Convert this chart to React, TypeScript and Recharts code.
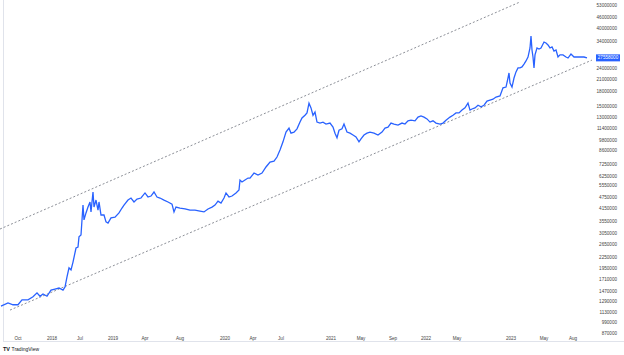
import React from "react";
import { LineChart, Line, XAxis, YAxis, ReferenceLine } from "recharts";

// bar index (position along the time axis) and close price
const barIndex = [
  1, 8, 13, 18, 22, 28, 33, 37, 40, 43,
  47, 51, 55, 59, 63, 65, 67, 69, 71, 73,
  76, 78, 79, 81, 83, 84, 86, 88, 90, 91,
  93, 94, 96, 98, 99, 101, 104, 106, 108, 111,
  115, 119, 122, 124, 128, 131, 134, 137, 141, 145,
  148, 151, 154, 157, 160, 164, 168, 172, 174, 176,
  180, 185, 190, 195, 200, 204, 208, 212, 215, 218,
  221, 224, 226, 229, 232, 236, 239, 240, 242, 245,
  248, 250, 254, 258, 262, 266, 270, 274, 277, 280,
  283, 286, 289, 291, 294, 297, 300, 302, 305, 307,
  309, 311, 313, 315, 317, 320, 323, 326, 330, 333,
  335, 337, 339, 342, 344, 347, 350, 353, 356, 359,
  361, 364, 367, 370, 374, 378, 382, 385, 388, 391,
  394, 398, 402, 405, 408, 411, 415, 418, 421, 424,
  427, 430, 433, 436, 440, 443, 446, 450, 453, 456,
  459, 462, 465, 468, 470, 472, 475, 478, 481, 484,
  487, 490, 493, 496, 500, 503, 506, 508, 509, 510,
  512, 514, 516, 518, 520, 522, 524, 526, 528, 530,
  531, 532, 533, 534, 535, 537, 539, 541, 544, 546,
  548, 550, 552, 554, 556, 558, 560, 563, 566, 568,
  571, 574, 577, 580, 584, 587,
];

const closePrice = [
  1220000, 1270000, 1240000, 1240000, 1320000, 1320000, 1370000, 1440000, 1380000, 1420000,
  1380000, 1490000, 1510000, 1530000, 1490000, 1550000, 1760000, 1970000, 1920000, 2120000,
  2530000, 2560000, 2910000, 2980000, 4340000, 3600000, 3930000, 4230000, 4510000, 3980000,
  5110000, 4230000, 4620000, 4070000, 4510000, 3830000, 3830000, 3510000, 3460000, 3690000,
  3730000, 3930000, 4180000, 4340000, 4620000, 4740000, 4510000, 4680000, 4740000, 5050000,
  4800000, 4860000, 5110000, 4800000, 4740000, 4620000, 4510000, 4390000, 3980000, 4230000,
  4180000, 4130000, 4070000, 4070000, 4020000, 3980000, 4130000, 4230000, 4340000, 4560000,
  4450000, 4740000, 5050000, 4800000, 4860000, 5050000, 5240000, 5940000, 5800000, 5940000,
  6090000, 6090000, 6490000, 6330000, 6490000, 7000000, 7450000, 7540000, 7930000, 8660000,
  9600000, 10850000, 11400000, 10700000, 10850000, 11300000, 12300000, 12950000, 13400000, 13800000,
  15600000, 14700000, 13400000, 13950000, 12300000, 12150000, 12300000, 12000000, 12150000, 11550000,
  10700000, 10100000, 11100000, 11300000, 12000000, 10850000, 10700000, 10450000, 10200000, 9600000,
  9950000, 10450000, 10700000, 10850000, 10700000, 10450000, 10850000, 11400000, 11550000, 12150000,
  12000000, 11850000, 12150000, 12000000, 12500000, 12600000, 12500000, 13100000, 13300000, 13100000,
  12800000, 12300000, 12500000, 12150000, 12000000, 12150000, 12600000, 13100000, 13400000, 13800000,
  13800000, 14300000, 14700000, 15600000, 14300000, 14500000, 14700000, 15200000, 14900000, 15200000,
  16000000, 16200000, 16400000, 16850000, 17100000, 18900000, 19100000, 21400000, 22800000, 20100000,
  19100000, 21400000, 23100000, 24300000, 24300000, 24600000, 25500000, 26500000, 27850000, 31200000,
  36200000, 30400000, 27850000, 24300000, 28600000, 31200000, 30800000, 31200000, 33600000, 33200000,
  32400000, 31200000, 31600000, 30000000, 30400000, 27850000, 28600000, 28600000, 27850000, 27500000,
  28900000, 27850000, 27850000, 27850000, 27850000, 27558000,
];

const lastPrice = 27558000;

const xTickBars = [18, 52, 80, 113, 145, 180, 225, 253, 281, 331, 361, 393, 426, 457, 511, 544, 573];
const xTickLabels = ["Oct", "2018", "Jul", "2019", "Apr", "Aug", "2020", "Apr", "Jul", "2021", "May", "Sep", "2022", "May", "2023", "May", "Aug"];

const yTicks = [
  53000000, 46000000, 40000000, 34000000, lastPrice, 24000000, 21000000, 18000000, 15000000, 13000000,
  11400000, 9800000, 8600000, 7250000, 6250000, 5550000, 4750000, 4150000, 3550000, 3050000,
  2650000, 2250000, 1950000, 1710000, 1470000, 1290000, 1130000, 990000, 870000,
];

// dotted channel drawn on the chart: [start, end] as {bar, price}
const upperChannel = [{ x: 0, y: 3210000 }, { x: 520, y: 55600000 }];
const lowerChannel = [{ x: 10, y: 1160000 }, { x: 592, y: 26800000 }];

const data = barIndex.map((b, i) => ({ bar: b, close: closePrice[i] }));

const FONT = "'Liberation Sans', Arial, sans-serif";

const XTick = (props: any) => {
  const { x, payload } = props;
  const i = xTickBars.indexOf(payload.value);
  return (
    <text x={x} y={339.5} textAnchor="middle" fontSize={4.6} fill="#444" fontFamily={FONT}>
      {xTickLabels[i]}
    </text>
  );
};

const YTick = (props: any) => {
  const { y, payload } = props;
  if (payload.value === lastPrice) {
    return (
      <g>
        <rect x={596} y={y - 3.5} width={24} height={7} fill="#2962FF" />
        <text x={608} y={y + 1.6} textAnchor="middle" fontSize={4.6} fill="#fff" fontFamily={FONT}>
          {lastPrice}
        </text>
      </g>
    );
  }
  return (
    <text x={617} y={y + 1.6} textAnchor="end" fontSize={4.6} fill="#444" fontFamily={FONT}>
      {payload.value}
    </text>
  );
};

export default function App() {
  return (
    <div style={{ position: "fixed", left: 0, top: 0, width: 624, height: 355, background: "#fff" }}>
      <div
        style={{
          position: "absolute",
          left: 3,
          top: 0,
          width: 621,
          height: 342,
          borderLeft: "1px solid #e0e3eb",
          borderBottom: "1px solid #e0e3eb",
          boxSizing: "border-box",
        }}
      />
      <div style={{ position: "absolute", left: 0, top: 0 }}>
        <LineChart width={624} height={342} data={data} margin={{ top: 0, right: 0, bottom: 0, left: 0 }}>
          <XAxis
            dataKey="bar"
            type="number"
            domain={[0, 592]}
            allowDataOverflow
            ticks={xTickBars}
            interval={0}
            axisLine={false}
            tickLine={false}
            height={8}
            tick={<XTick />}
          />
          <YAxis
            orientation="right"
            type="number"
            scale="log"
            domain={[859000, 57000000]}
            allowDataOverflow
            ticks={yTicks}
            interval={0}
            axisLine={false}
            tickLine={false}
            width={32}
            tick={<YTick />}
          />
          <ReferenceLine segment={upperChannel} stroke="#7f828b" strokeDasharray="2 2" strokeWidth={0.9} />
          <ReferenceLine segment={lowerChannel} stroke="#7f828b" strokeDasharray="2 2" strokeWidth={0.9} />
          <Line
            type="linear"
            dataKey="close"
            stroke="#2962FF"
            strokeWidth={1.3}
            dot={false}
            activeDot={false}
            isAnimationActive={false}
          />
        </LineChart>
      </div>
      <div
        style={{
          position: "absolute",
          left: 3,
          top: 346,
          fontFamily: FONT,
          fontSize: 5,
          color: "#131722",
          display: "flex",
          alignItems: "center",
          gap: 1.5,
        }}
      >
        <span style={{ fontWeight: 900, fontSize: 5.5 }}>TV</span>
        <span>TradingView</span>
      </div>
    </div>
  );
}
